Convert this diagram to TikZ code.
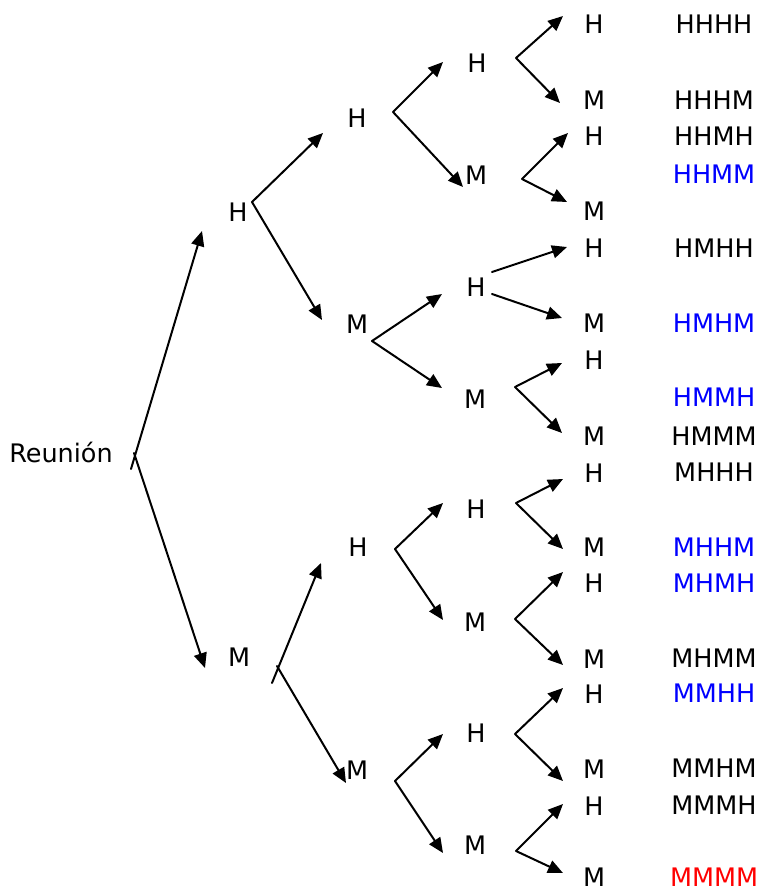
\documentclass[tikz,border=0pt]{standalone}
\usepackage{fontspec}
\setmainfont{DejaVu Sans}
\usetikzlibrary{arrows.meta}

\begin{document}
\begin{tikzpicture}[x=1pt, y=-1pt, line cap = round, line join = round, >={Triangle[length=15pt,width=13pt]}]
\tikzstyle{lbl}=[font=\fontsize{25.5}{30}\selectfont, inner sep=0pt, text=black]
\tikzstyle{blueout}=[lbl, text=blue]
\tikzstyle{redout}=[lbl, text=red]
\tikzstyle{branch}=[line width=2pt, ->]
\useasboundingbox (0,0) rectangle (761,891);

\node[lbl, anchor=base] (r) at (61,462) {Reunión};
\coordinate (f-r-up) at (131,469);
\coordinate (f-r-dn) at (134,453);

\node[lbl] (h) at (238,212) {H};
\node[lbl] (m) at (239,657) {M};
\coordinate (t-h) at (202,231);
\coordinate (t-m) at (205,668);
\coordinate (f-h) at (252,202);
\coordinate (f-m-up) at (272,683);
\coordinate (f-m-dn) at (277,666);

\node[lbl] (hh) at (357,118) {H};
\node[lbl] (hm) at (357,324) {M};
\node[lbl] (mh) at (358,547) {H};
\node[lbl] (mm) at (357,770) {M};
\coordinate (t-hh) at (323,133);
\coordinate (t-hm) at (322,320);
\coordinate (t-mh) at (321,563);
\coordinate (t-mm) at (346,783);
\coordinate (f-hh) at (393,112);
\coordinate (f-hm) at (372,341);
\coordinate (f-mh) at (395,549);
\coordinate (f-mm) at (395,781);

\node[lbl] (hhh) at (477,63) {H};
\node[lbl] (hhm) at (476,175) {M};
\node[lbl] (hmh) at (476,287) {H};
\node[lbl] (hmm) at (475,399) {M};
\node[lbl] (mhh) at (476,509) {H};
\node[lbl] (mhm) at (475,622) {M};
\node[lbl] (mmh) at (476,733) {H};
\node[lbl] (mmm) at (475,845) {M};
\coordinate (t-hhh) at (443,62);
\coordinate (t-hhm) at (463,187);
\coordinate (t-hmh) at (442,294);
\coordinate (t-hmm) at (442,388);
\coordinate (t-mhh) at (443,503);
\coordinate (t-mhm) at (443,620);
\coordinate (t-mmh) at (443,734);
\coordinate (t-mmm) at (443,853);
\coordinate (f-hhh) at (516,58);
\coordinate (f-hhm) at (522,179);
\coordinate (f-hmh-up) at (492,272);
\coordinate (f-hmh-dn) at (492,294);
\coordinate (f-hmm) at (515,387);
\coordinate (f-mhh) at (516,503);
\coordinate (f-mhm) at (515,619);
\coordinate (f-mmh) at (515,734);
\coordinate (f-mmm) at (516,851);

\node[lbl] (l-hhhh) at (594,24) {H};
\node[lbl] (l-hhhm) at (594,100) {M};
\node[lbl] (l-hhmh) at (594,136) {H};
\node[lbl] (l-hhmm) at (594,211) {M};
\node[lbl] (l-hmhh) at (594,248) {H};
\node[lbl] (l-hmhm) at (594,323) {M};
\node[lbl] (l-hmmh) at (594,360) {H};
\node[lbl] (l-hmmm) at (594,436) {M};
\node[lbl] (l-mhhh) at (594,473) {H};
\node[lbl] (l-mhhm) at (594,547) {M};
\node[lbl] (l-mhmh) at (594,583) {H};
\node[lbl] (l-mhmm) at (594,659) {M};
\node[lbl] (l-mmhh) at (594,694) {H};
\node[lbl] (l-mmhm) at (594,769) {M};
\node[lbl] (l-mmmh) at (594,806) {H};
\node[lbl] (l-mmmm) at (594,877) {M};
\coordinate (t-hhhh) at (563,16);
\coordinate (t-hhhm) at (560,103);
\coordinate (t-hhmh) at (568,133);
\coordinate (t-hhmm) at (567,202);
\coordinate (t-hmhh) at (567,247);
\coordinate (t-hmhm) at (562,318);
\coordinate (t-hmmh) at (562,363);
\coordinate (t-hmmm) at (562,433);
\coordinate (t-mhhh) at (563,479);
\coordinate (t-mhhm) at (563,549);
\coordinate (t-mhmh) at (563,572);
\coordinate (t-mhmm) at (563,665);
\coordinate (t-mmhh) at (563,688);
\coordinate (t-mmhm) at (563,781);
\coordinate (t-mmmh) at (563,804);
\coordinate (t-mmmm) at (563,873);

\node[lbl] (o-hhhh) at (714,24) {HHHH};
\node[lbl] (o-hhhm) at (714,100) {HHHM};
\node[lbl] (o-hhmh) at (714,136) {HHMH};
\node[blueout] (o-hhmm) at (714,174) {HHMM};
\node[lbl] (o-hmhh) at (714,248) {HMHH};
\node[blueout] (o-hmhm) at (714,323) {HMHM};
\node[blueout] (o-hmmh) at (714,397) {HMMH};
\node[lbl] (o-hmmm) at (714,436) {HMMM};
\node[lbl] (o-mhhh) at (714,472) {MHHH};
\node[blueout] (o-mhhm) at (714,547) {MHHM};
\node[blueout] (o-mhmh) at (714,583) {MHMH};
\node[lbl] (o-mhmm) at (714,658) {MHMM};
\node[blueout] (o-mmhh) at (714,693) {MMHH};
\node[lbl] (o-mmhm) at (714,768) {MMHM};
\node[lbl] (o-mmmh) at (714,805) {MMMH};
\node[redout] (o-mmmm) at (714,877) {MMMM};

\draw[branch] (f-r-up) -- (t-h);
\draw[branch] (f-r-dn) -- (t-m);
\draw[branch] (f-h) -- (t-hh);
\draw[branch] (f-h) -- (t-hm);
\draw[branch] (f-m-up) -- (t-mh);
\draw[branch] (f-m-dn) -- (t-mm);

\draw[branch] (f-hh) -- (t-hhh);
\draw[branch] (f-hh) -- (t-hhm);
\draw[branch] (f-hm) -- (t-hmh);
\draw[branch] (f-hm) -- (t-hmm);
\draw[branch] (f-mh) -- (t-mhh);
\draw[branch] (f-mh) -- (t-mhm);
\draw[branch] (f-mm) -- (t-mmh);
\draw[branch] (f-mm) -- (t-mmm);

\draw[branch] (f-hhh) -- (t-hhhh);
\draw[branch] (f-hhh) -- (t-hhhm);
\draw[branch] (f-hhm) -- (t-hhmh);
\draw[branch] (f-hhm) -- (t-hhmm);
\draw[branch] (f-hmh-up) -- (t-hmhh);
\draw[branch] (f-hmh-dn) -- (t-hmhm);
\draw[branch] (f-hmm) -- (t-hmmh);
\draw[branch] (f-hmm) -- (t-hmmm);
\draw[branch] (f-mhh) -- (t-mhhh);
\draw[branch] (f-mhh) -- (t-mhhm);
\draw[branch] (f-mhm) -- (t-mhmh);
\draw[branch] (f-mhm) -- (t-mhmm);
\draw[branch] (f-mmh) -- (t-mmhh);
\draw[branch] (f-mmh) -- (t-mmhm);
\draw[branch] (f-mmm) -- (t-mmmh);
\draw[branch] (f-mmm) -- (t-mmmm);
\end{tikzpicture}
\end{document}
